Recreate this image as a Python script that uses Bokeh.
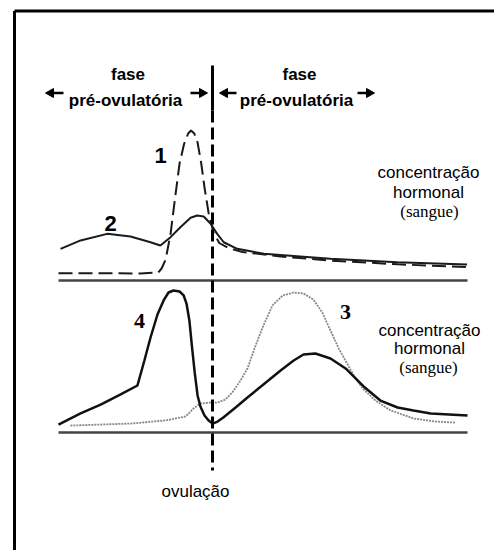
from bokeh.plotting import figure
from bokeh.models import Range1d
from bokeh.core.properties import value
from bokeh.embed import file_html
from bokeh.resources import INLINE

# ---- data (time in % of cycle span, level in relative concentration units) ----
OVULATION_T = 37.65

T1 = [0, 10, 20, 24.4, 25.2, 26.2, 27.4, 28.5, 29.6, 30.7, 31.7, 32.4, 33.2, 34.0,
      34.9, 35.7, 36.7, 37.9, 39.3, 41.6, 45, 54.3, 66.5, 83, 100]
C1 = [4.9, 4.9, 4.7, 5.3, 8, 14, 31.1, 55, 78, 91, 98, 100, 98, 92,
      78, 62, 45, 32, 25, 21.5, 19, 16, 13.3, 10.8, 8.9]

T2 = [0.5, 5.4, 11.9, 17.6, 22.5, 24.9, 27.4, 29.8, 32.3, 33.9, 35.5, 37.2, 38.8,
      40.4, 43.7, 50.2, 66.5, 82.8, 99.9]
C2 = [21.1, 26.7, 31.1, 29.3, 25.5, 23.3, 28.9, 35.5, 41.8, 43.3, 42.7, 37.8, 31.1,
      25.5, 21.1, 17.8, 14.5, 12.2, 10.7]

T3 = [2.9, 17.6, 26.2, 31.1, 33.0, 34.7, 37.2, 38.9, 40.8, 42.5, 44.5, 46.2, 48.2,
      50.1, 52.3, 54.8, 57.5, 59.9, 62.3, 64.5, 66.5, 68.5, 70.7, 72.6, 74.6, 77.5,
      81.2, 86.8, 92.2, 97.1]
C3 = [4.9, 6.3, 8.5, 11.3, 16.9, 20.4, 21.1, 21.1, 23.2, 28.2, 36.6, 45.1, 61.3,
      75.4, 89.4, 96.5, 98.6, 97.9, 93.7, 84.5, 71.8, 59.2, 47.9, 38.0, 30.3, 22.5,
      15.5, 9.9, 7.7, 7.0]

T4 = [0, 5.4, 10.3, 15.2, 19.3, 21.0, 22.5, 24.2, 25.7, 26.9, 28.1, 29.6, 30.6, 31.3,
      32.0, 32.6, 33.3, 34.0, 34.7, 35.7, 36.7, 37.7, 38.9, 40.3, 43.3, 46.2, 50.1,
      54.3, 57.5, 59.9, 62.8, 66.5, 70.2, 74.6, 78.7, 82.9, 86.8, 91.0, 100]
C4 = [5.6, 13.4, 19.7, 26.8, 33.1, 50.7, 66.9, 83.1, 93.0, 98.6, 100, 99.3, 96.5, 90.8,
      78.9, 61.3, 42.3, 26.1, 18.3, 12.0, 8.5, 6.3, 7.7, 10.6, 17.6, 24.6, 33.8,
      43.7, 50.7, 54.9, 55.6, 52.1, 45.1, 32.4, 22.5, 17.6, 15.5, 13.4, 12.0]

PHASE_TOP = "fase"
PHASE_BOTTOM = "pré-ovulatória"
AXIS_LABEL = ["concentração", "hormonal", "(sangue)"]
CURVE_NAMES = ["1", "2", "3", "4"]
OVULATION_LABEL = "ovulação"

# ---- figure in page coordinates ----
W, H = 494, 550
p = figure(width=W, height=H, output_backend="svg", toolbar_location=None,
           x_range=Range1d(0, W), y_range=Range1d(H, 0),
           x_axis_location=None, y_axis_location=None, min_border=0)
p.grid.visible = False
p.outline_line_color = None

p.extra_x_ranges = {"time": Range1d((0 - 58) / 4.09, (W - 58) / 4.09)}
p.extra_y_ranges = {"top": Range1d((280 - H) / 1.5, 280 / 1.5),
                    "bottom": Range1d((432 - H) / 1.42, 432 / 1.42)}

# frame (top and left edges)
p.line([14, W + 5], [10.5, 10.5], line_color="black", line_width=3)
p.line([14, 14], [10.5, H + 5], line_color="black", line_width=3)

# baselines
p.line([0, 100], [0, 0], x_range_name="time", y_range_name="top",
       line_color="#444444", line_width=2.5)
p.line([0, 100], [0, 0], x_range_name="time", y_range_name="bottom",
       line_color="#444444", line_width=2.5)

# curves
p.line(T2, C2, x_range_name="time", y_range_name="top",
       line_color="#1a1a1a", line_width=2)
p.line(T1, C1, x_range_name="time", y_range_name="top",
       line_color="#1a1a1a", line_width=2, line_dash="14 6")
p.line(T3, C3, x_range_name="time", y_range_name="bottom",
       line_color="#888888", line_width=1.8, line_dash="2 1")
p.line(T4, C4, x_range_name="time", y_range_name="bottom",
       line_color="#111111", line_width=2.5)

# ovulation line
p.line([OVULATION_T, OVULATION_T], [65, 110], x_range_name="time",
       line_color="black", line_width=3)
p.line([OVULATION_T, OVULATION_T], [110, 470], x_range_name="time",
       line_color="black", line_width=3, line_dash="12 5")

sans = value("Liberation Sans")
serif = value("Liberation Serif")

# phase headers
p.text(x=[127.5, 299], y=[73.5, 73.5], text=[PHASE_TOP, PHASE_TOP],
       text_font=sans, text_font_style="bold", text_font_size="17px",
       text_align="center", text_baseline="alphabetic", text_color="black")
p.text(x=[125, 296], y=[100, 100], text=[PHASE_BOTTOM, PHASE_BOTTOM],
       text_font=sans, text_font_style="bold", text_font_size="17px",
       text_align="center", text_baseline="alphabetic", text_color="black")

# arrows: (tail x, tip x) pairs at header height
ARROWS = [(63, 45), (190, 207), (236, 219), (357, 374)]
AY = 92.5
for xs, xe in ARROWS:
    d = 1 if xe > xs else -1
    base = xe - d * 8
    p.line([xs, base], [AY, AY], line_color="black", line_width=2.5)
    p.patch([xe, base, base], [AY, AY - 4.5, AY + 4.5],
            fill_color="black", line_color="black", line_width=1)

# axis labels
p.text(x=[428, 428], y=[172, 192], text=AXIS_LABEL[:2],
       text_font=sans, text_font_size="17px", text_align="center",
       text_baseline="alphabetic", text_color="black")
p.text(x=[429], y=[211], text=[AXIS_LABEL[2]],
       text_font=serif, text_font_size="17px", text_align="center",
       text_baseline="alphabetic", text_color="black")
p.text(x=[429, 429], y=[330, 348], text=AXIS_LABEL[:2],
       text_font=sans, text_font_size="17px", text_align="center",
       text_baseline="alphabetic", text_color="black")
p.text(x=[428], y=[367], text=[AXIS_LABEL[2]],
       text_font=serif, text_font_size="17px", text_align="center",
       text_baseline="alphabetic", text_color="black")

# curve numbers
p.text(x=[160, 110], y=[155, 223], text=[CURVE_NAMES[0], CURVE_NAMES[1]],
       text_font=sans, text_font_style="bold", text_font_size="22px",
       text_align="center", text_baseline="alphabetic", text_color="black")
p.text(x=[345, 139], y=[311, 320], text=[CURVE_NAMES[2], CURVE_NAMES[3]],
       text_font=serif, text_font_style="bold", text_font_size="22px",
       text_align="center", text_baseline="alphabetic", text_color="black")

# ovulation label
p.text(x=[195], y=[491], text=[OVULATION_LABEL],
       text_font=sans, text_font_size="17px", text_align="center",
       text_baseline="alphabetic", text_color="black")

open("out.html", "w").write(file_html(p, INLINE))
